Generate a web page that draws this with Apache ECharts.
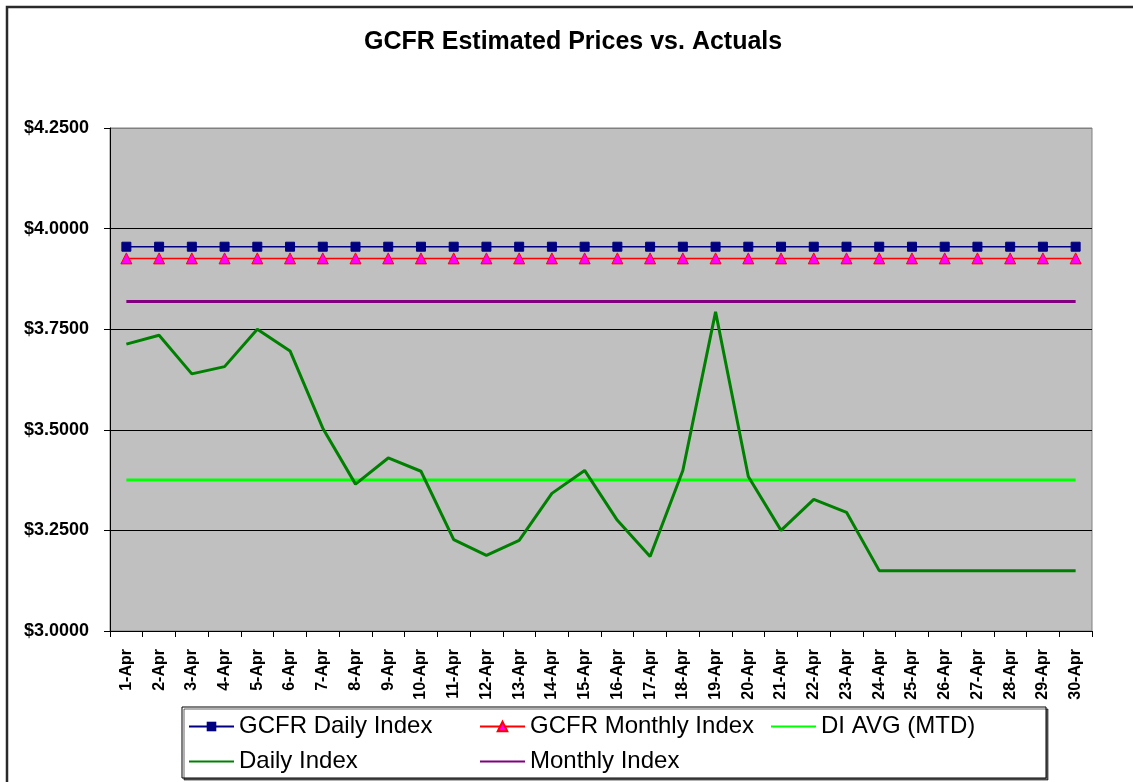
<!DOCTYPE html>
<html>
<head>
<meta charset="utf-8">
<script src="https://cdn.jsdelivr.net/npm/echarts@6/dist/echarts.min.js"></script>
<style>
html,body{margin:0;padding:0;background:#fff;}
#chart{width:1133px;height:782px;}
</style>
</head>
<body>
<div id="chart"></div>
<script>
const categories = ['1-Apr','2-Apr','3-Apr','4-Apr','5-Apr','6-Apr','7-Apr','8-Apr','9-Apr','10-Apr',
  '11-Apr','12-Apr','13-Apr','14-Apr','15-Apr','16-Apr','17-Apr','18-Apr','19-Apr','20-Apr',
  '21-Apr','22-Apr','23-Apr','24-Apr','25-Apr','26-Apr','27-Apr','28-Apr','29-Apr','30-Apr'];
const gcfrDailyIndex = [3.955,3.955,3.955,3.955,3.955,3.955,3.955,3.955,3.955,3.955,
  3.955,3.955,3.955,3.955,3.955,3.955,3.955,3.955,3.955,3.955,
  3.955,3.955,3.955,3.955,3.955,3.955,3.955,3.955,3.955,3.955];
const gcfrMonthlyIndex = [3.926,3.926,3.926,3.926,3.926,3.926,3.926,3.926,3.926,3.926,
  3.926,3.926,3.926,3.926,3.926,3.926,3.926,3.926,3.926,3.926,
  3.926,3.926,3.926,3.926,3.926,3.926,3.926,3.926,3.926,3.926];
const diAvgMtd = [3.375,3.375,3.375,3.375,3.375,3.375,3.375,3.375,3.375,3.375,
  3.375,3.375,3.375,3.375,3.375,3.375,3.375,3.375,3.375,3.375,
  3.375,3.375,3.375,3.375,3.375,3.375,3.375,3.375,3.375,3.375];
const dailyIndex = [3.713,3.735,3.639,3.657,3.750,3.696,3.504,3.365,3.430,3.397,
  3.227,3.188,3.225,3.342,3.399,3.275,3.185,3.399,3.793,3.384,
  3.250,3.327,3.295,3.150,3.150,3.150,3.150,3.150,3.150,3.150];
const monthlyIndex = [3.819,3.819,3.819,3.819,3.819,3.819,3.819,3.819,3.819,3.819,
  3.819,3.819,3.819,3.819,3.819,3.819,3.819,3.819,3.819,3.819,
  3.819,3.819,3.819,3.819,3.819,3.819,3.819,3.819,3.819,3.819];
const yTicks = [3.0, 3.25, 3.5, 3.75, 4.0, 4.25];
const titleText = 'GCFR Estimated Prices vs. Actuals';

const FONT = 'Arial, "Liberation Sans", sans-serif';
const noMarker = {color: 'rgba(0,0,0,0)', borderColor: 'rgba(0,0,0,0)', borderWidth: 0, opacity: 0};
const chart = echarts.init(document.getElementById('chart'), null, {renderer: 'canvas'});
chart.setOption({
  backgroundColor: '#ffffff',
  animation: false,
  title: {
    text: titleText,
    left: 364,
    top: 30,
    padding: 0,
    textStyle: {fontFamily: FONT, fontSize: 25, fontWeight: 'bold', color: '#000'}
  },
  graphic: [
    {type: 'rect', shape: {x: 7, y: 7, width: 1200, height: 900},
     style: {fill: 'none', stroke: '#2a2a2a', lineWidth: 2.5}, silent: true, z: -10},
    {type: 'rect', shape: {x: 182, y: 707, width: 864, height: 71},
     style: {fill: '#fff', stroke: '#000', lineWidth: 1, shadowColor: 'rgba(0,0,0,0.6)', shadowOffsetX: 2, shadowOffsetY: 2, shadowBlur: 0},
     silent: true, z: -5}
  ],
  grid: {
    left: 110, right: 41, top: 128, bottom: 151,
    show: true, backgroundColor: '#C0C0C0', borderColor: '#808080', borderWidth: 1,
    containLabel: false
  },
  legend: {
    data: [
      {name: 'GCFR Daily Index'},
      {name: 'GCFR Monthly Index'},
      {name: 'DI AVG (MTD)', itemStyle: noMarker},
      '',
      {name: 'Daily Index', itemStyle: noMarker},
      {name: 'Monthly Index', itemStyle: noMarker}
    ],
    left: 188, top: 714, padding: 0,
    orient: 'horizontal',
    itemWidth: 45, itemHeight: 12, itemGap: 10,
    textStyle: {fontFamily: FONT, fontSize: 24, color: '#000', width: 230, lineHeight: 25},
    selectedMode: false
  },
  xAxis: {
    type: 'category',
    data: categories,
    boundaryGap: true,
    axisLine: {show: true, lineStyle: {color: '#000', width: 1}},
    axisTick: {show: true, interval: 0, length: 6, inside: false, alignWithLabel: false, lineStyle: {color: '#000'}},
    axisLabel: {interval: 0, rotate: 90, margin: 18, fontFamily: FONT, fontSize: 16, fontWeight: 'bold', color: '#000'},
    splitLine: {show: false}
  },
  yAxis: {
    type: 'value',
    min: 3.0, max: 4.25, interval: 0.25,
    axisLine: {show: true, lineStyle: {color: '#000', width: 1}},
    axisTick: {show: true, length: 6, lineStyle: {color: '#000'}},
    axisLabel: {margin: 21, fontFamily: FONT, fontSize: 18, fontWeight: 'bold', color: '#000',
      formatter: v => '$' + v.toFixed(4)},
    splitLine: {show: true, lineStyle: {color: ['#000', '#000', '#000', '#000', '#000', '#808080'], width: 1}}
  },
  series: [
    {name: 'GCFR Daily Index', type: 'line', data: gcfrDailyIndex,
     symbol: 'rect', symbolSize: 9, showAllSymbol: true,
     lineStyle: {color: '#000080', width: 1.5}, itemStyle: {color: '#000080', borderColor: '#000080'}, z: 3},
    {name: 'GCFR Monthly Index', type: 'line', data: gcfrMonthlyIndex,
     symbol: 'triangle', symbolSize: 11, showAllSymbol: true,
     lineStyle: {color: '#FF0000', width: 1.5}, itemStyle: {color: '#FF00FF', borderColor: '#FF0000', borderWidth: 1}, z: 3},
    {name: 'DI AVG (MTD)', type: 'line', data: diAvgMtd, symbol: 'none',
     lineStyle: {color: '#00FF00', width: 3}, itemStyle: {color: '#00FF00'}, z: 2},
    {name: 'Daily Index', type: 'line', data: dailyIndex, symbol: 'none',
     lineStyle: {color: '#008000', width: 3}, itemStyle: {color: '#008000'}, z: 2},
    {name: 'Monthly Index', type: 'line', data: monthlyIndex, symbol: 'none',
     lineStyle: {color: '#800080', width: 3}, itemStyle: {color: '#800080'}, z: 2}
  ]
});
</script>
</body>
</html>
